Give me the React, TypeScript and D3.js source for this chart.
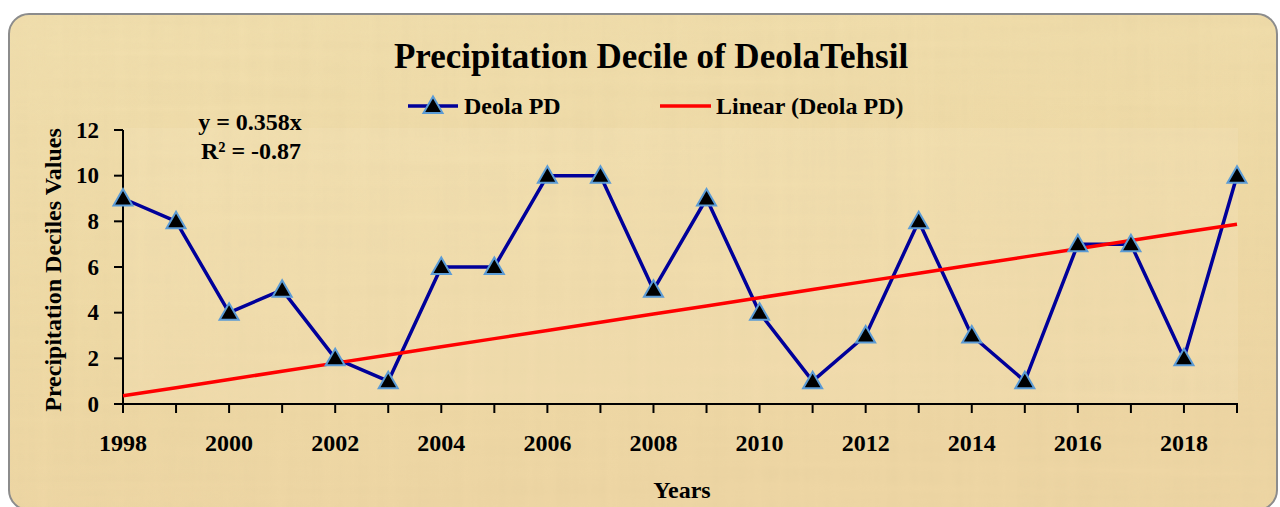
import * as d3 from 'd3'

// data
const years = [1998, 1999, 2000, 2001, 2002, 2003, 2004, 2005, 2006, 2007, 2008, 2009, 2010, 2011, 2012, 2013, 2014, 2015, 2016, 2017, 2018, 2019]
const deolaPD = [9, 8, 4, 5, 2, 1, 6, 6, 10, 10, 5, 9, 4, 1, 3, 8, 3, 1, 7, 7, 2, 10]
const trendSlope = 0.358
const yTicks = [0, 2, 4, 6, 8, 10, 12]
const xTickLabels = [1998, 2000, 2002, 2004, 2006, 2008, 2010, 2012, 2014, 2016, 2018]

const W = 1280
const H = 507
const FONT = '"Liberation Serif", "Times New Roman", serif'
const NAVY = '#00009a'
const MARKER_STROKE = '#5b9bd5'

const plot = { left: 123, right: 1237, top: 130, bottom: 404 }

const tri = 'M0,-9.5L9.5,7L-9.5,7Z'

export default function App() {
  const x = d3.scaleLinear().domain([years[0], years[years.length - 1]]).range([plot.left, plot.right])
  const y = d3.scaleLinear().domain([0, 12]).range([plot.bottom, plot.top])

  const pts = years.map((yr, i) => ({ yr, v: deolaPD[i] }))
  const line = d3.line<{ yr: number; v: number }>().x(d => x(d.yr)).y(d => y(d.v))
  // Excel trendline uses x = 1..n
  const trend = years.map((yr, i) => ({ yr, v: trendSlope * (i + 1) }))

  return (
    <svg width={W} height={H} style={{ position: 'absolute', left: 0, top: 0, fontFamily: FONT }}>
      <defs>
        <linearGradient id="bg" x1="0" y1="0" x2="0.3" y2="1">
          <stop offset="0" stopColor="#f1dfae" />
          <stop offset="0.6" stopColor="#efdaa6" />
          <stop offset="1" stopColor="#eed6a4" />
        </linearGradient>
        <filter id="fibers" x="0" y="0" width="100%" height="100%">
          <feTurbulence type="fractalNoise" baseFrequency="0.003 0.08" numOctaves={3} seed={4} result="h" />
          <feTurbulence type="fractalNoise" baseFrequency="0.08 0.003" numOctaves={3} seed={9} result="v" />
          <feBlend in="h" in2="v" mode="multiply" result="n" />
          <feColorMatrix in="n" type="matrix"
            values="0 0 0 0 0.70  0 0 0 0 0.56  0 0 0 0 0.30  1.6 0 0 0 -0.3" />
        </filter>
        <clipPath id="frame">
          <rect x={9} y={14} width={1268} height={496} rx={20} />
        </clipPath>
      </defs>

      {/* papyrus background */}
      <g clipPath="url(#frame)">
        <rect x={9} y={14} width={1268} height={496} fill="url(#bg)" />
        <rect x={9} y={14} width={1268} height={496} filter="url(#fibers)" opacity={0.2} />
        <rect x={plot.left} y={plot.top - 2} width={plot.right - plot.left + 1} height={plot.bottom - plot.top + 2} fill="#fff8e0" opacity={0.12} />
      </g>
      <rect x={9} y={14} width={1268} height={496} rx={20} fill="none" stroke="#8c8c8c" strokeWidth={2} />

      {/* title */}
      <text x={651} y={68} textAnchor="middle" fontSize={35} fontWeight="bold" fill="#000">
        Precipitation Decile of DeolaTehsil
      </text>

      {/* legend */}
      <g>
        <line x1={408} x2={458} y1={106} y2={106} stroke={NAVY} strokeWidth={3.5} />
        <path d={tri} transform="translate(433,106)" fill="#000" stroke={MARKER_STROKE} strokeWidth={2} />
        <text x={464} y={114} fontSize={24} fontWeight="bold">Deola PD</text>
        <line x1={660} x2={711} y1={106} y2={106} stroke="#ff0000" strokeWidth={3.5} />
        <text x={716} y={114} fontSize={24} fontWeight="bold">Linear (Deola PD)</text>
      </g>

      {/* trendline equation */}
      <text x={250} y={130} textAnchor="middle" fontSize={24} fontWeight="bold">y = 0.358x</text>
      <text x={251} y={159} textAnchor="middle" fontSize={24} fontWeight="bold">R² = -0.87</text>

      {/* y axis */}
      <g>
        <line x1={plot.left} x2={plot.left} y1={plot.top} y2={plot.bottom} stroke="#000" strokeWidth={2} />
        {yTicks.map(t => (
          <g key={t}>
            <line x1={114} x2={plot.left} y1={y(t)} y2={y(t)} stroke="#000" strokeWidth={2} />
            <text x={99} y={y(t)} dy="0.34em" textAnchor="end" fontSize={23} fontWeight="bold">{t}</text>
          </g>
        ))}
        <text
          transform={`translate(61,${(plot.top + plot.bottom) / 2 + 3}) rotate(-90)`}
          textAnchor="middle" fontSize={24} fontWeight="bold"
        >
          Precipitation Deciles Values
        </text>
      </g>

      {/* x axis */}
      <g>
        <line x1={114} x2={plot.right + 1} y1={plot.bottom} y2={plot.bottom} stroke="#000" strokeWidth={2} />
        {years.map(yr => (
          <line key={yr} x1={x(yr)} x2={x(yr)} y1={plot.bottom} y2={plot.bottom + 9} stroke="#000" strokeWidth={2} />
        ))}
        {xTickLabels.map(yr => (
          <text key={yr} x={x(yr)} y={451} textAnchor="middle" fontSize={24} fontWeight="bold">{yr}</text>
        ))}
        <text x={682} y={498} textAnchor="middle" fontSize={24} fontWeight="bold">Years</text>
      </g>

      {/* series */}
      <path d={line(pts) ?? ''} fill="none" stroke={NAVY} strokeWidth={3.5} strokeLinejoin="round" />
      <path d={line(trend) ?? ''} fill="none" stroke="#ff0000" strokeWidth={3.5} />
      {pts.map(p => (
        <path key={p.yr} d={tri} transform={`translate(${x(p.yr)},${y(p.v)})`} fill="#000" stroke={MARKER_STROKE} strokeWidth={2} />
      ))}
    </svg>
  )
}
